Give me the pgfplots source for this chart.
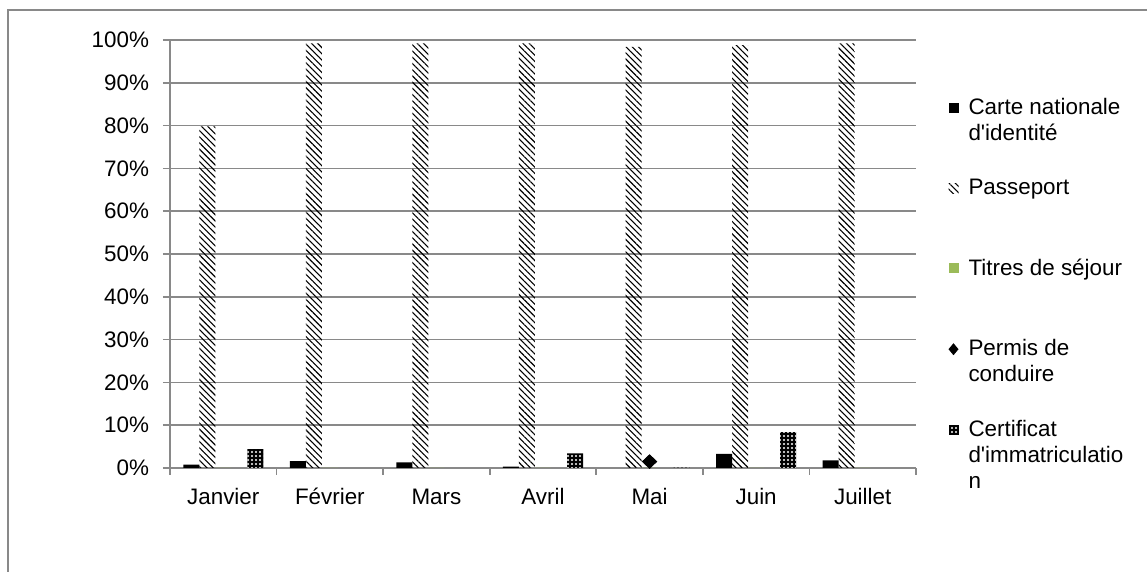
\documentclass[border=0pt]{standalone}
\usepackage{fontspec}
\setmainfont{Liberation Sans}
\usepackage{pgfplots}
\pgfplotsset{compat=1.18}
\usetikzlibrary{patterns.meta}
\definecolor{gridgray}{HTML}{898989}
\definecolor{titres}{HTML}{9BBB59}

\begin{document}
\begin{tikzpicture}
\useasboundingbox (0,0) rectangle (573.5pt,286pt);
\draw[gridgray, line width=0.8pt] (4pt,-2pt) -- (4pt,281pt) -- (576pt,281pt);
\begin{axis}[
    at={(85pt,52pt)}, anchor=south west,
    scale only axis,
    width=373pt, height=214pt,
    ybar=0pt, bar width=8pt,
    xmin=0.5, xmax=7.5,
    ymin=0, ymax=100,
    axis x line*=bottom, axis y line*=left,
    axis line style={gridgray, line width=0.8pt, -},
    xtick={1,...,7},
    xticklabels={Janvier,Février,Mars,Avril,Mai,Juin,Juillet},
    major x tick style={draw=none},
    minor xtick={0.5,1.5,...,7.5},
    minor tick length=3.5pt,
    major tick length=3.5pt,
    tick align=outside,
    tick style={gridgray, line width=0.8pt},
    ytick={0,10,...,100},
    yticklabel={\pgfmathprintnumber{\tick}\%},
    ymajorgrids,
    grid style={gridgray, line width=0.8pt},
    /pgf/number format/assume math mode=true,
    ticklabel style={font=\fontsize{11.2}{13}\selectfont},
    yticklabel style={xshift=-3.5pt},
    xticklabel style={yshift=-3pt, text height=8pt, text depth=2pt},
    legend style={at={(1.035,0.875)}, anchor=north west, draw=none, fill=none,
        font=\fontsize{11.2}{13}\selectfont, row sep=17.5pt,
        cells={anchor=north west, align=left},
        nodes={inner sep=0pt}},
    legend image code/.code={\path[#1] (0pt,-7.5pt) rectangle (5pt,-2.5pt);},
    /tikz/every odd column/.append style={column sep=5pt},
]
% Carte nationale d'identite
\addplot[draw=none, fill=black] coordinates {
    (1,0.8) (2,1.6) (3,1.3) (4,0.3) (6,3.3) (7,1.8)
};
% Passeport
\addplot[draw=none, pattern={Lines[angle=-45,distance=2.2pt,line width=0.55pt]}, pattern color=black] coordinates {
    (1,79.8) (2,99.2) (3,99.2) (4,99.2) (5,98.4) (6,98.8) (7,99.2)
};
% Titres de sejour
\addplot[draw=none, fill=titres] coordinates {
    (1,0) (2,0) (3,0) (4,0) (5,0) (6,0) (7,0)
};
% Permis de conduire
\addplot[draw=none, fill=none, mark=diamond*, mark size=3.4pt, mark options={black, fill=black, xscale=1.4},
    legend image code/.code={\fill[black] (2.5pt,-8pt) -- (5pt,-5pt) -- (2.5pt,-2pt) -- (0pt,-5pt) -- cycle;}] coordinates {
    (5,1.5)
};
% Certificat d'immatriculation
\addplot[draw=none, fill=black, postaction={pattern={Dots[distance=2pt,radius=0.55pt]}, pattern color=white}] coordinates {
    (1,4.4) (4,3.4) (5,0.1) (6,8.4)
};
\legend{Carte nationale\\d\textquotesingle identité, Passeport\\\strut, Titres de séjour\\\strut, Permis de\\conduire, Certificat\\d\textquotesingle immatriculatio\\n}
\end{axis}
\end{tikzpicture}
\end{document}
